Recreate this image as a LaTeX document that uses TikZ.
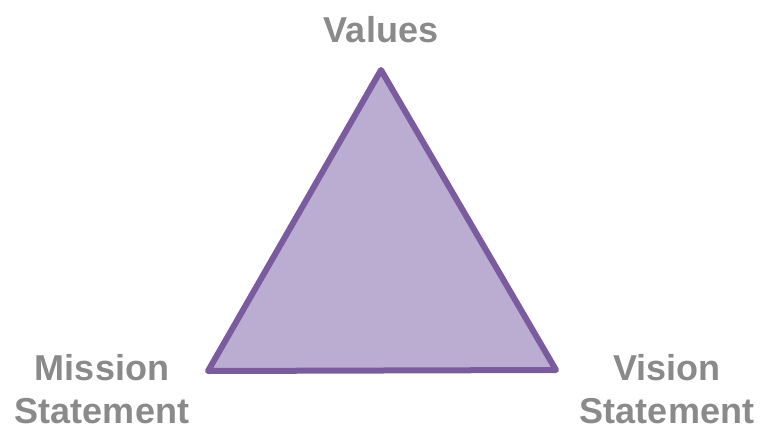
\documentclass[tikz,border=0pt]{standalone}
\usepackage{fontspec}
\setmainfont{Liberation Sans}
\usepackage{xcolor}
\usetikzlibrary{positioning}
\definecolor{triFill}{HTML}{BBACD1}
\definecolor{triEdge}{HTML}{7A5C9E}
\definecolor{lblGray}{HTML}{8A8A8A}

\begin{document}
\begin{tikzpicture}[
			x=1pt,y=-1pt,
			every node/.style={
				inner sep=0pt,
				align=center,
				text=lblGray,
				font=\fontsize{36}{43}\selectfont\bfseries
			},
			corner/.style={anchor=base}
			]
			\useasboundingbox (0,0) rectangle (772,426);
			
			\coordinate (top) at (381,70);
			\coordinate (left) at (208,371);
			\coordinate (right) at (556,370);
			
			\draw[triEdge,fill=triFill,line width=6pt,line join=round]
				(top) -- (left) -- (right) -- cycle;
			
			\node[corner] (values) at (381,42) {Values};
			\node[corner] (mission) at (102,423) {Mission\\Statement};
			\node[corner] (vision) at (667,423) {Vision\\Statement};
			
		\end{tikzpicture}
\end{document}
